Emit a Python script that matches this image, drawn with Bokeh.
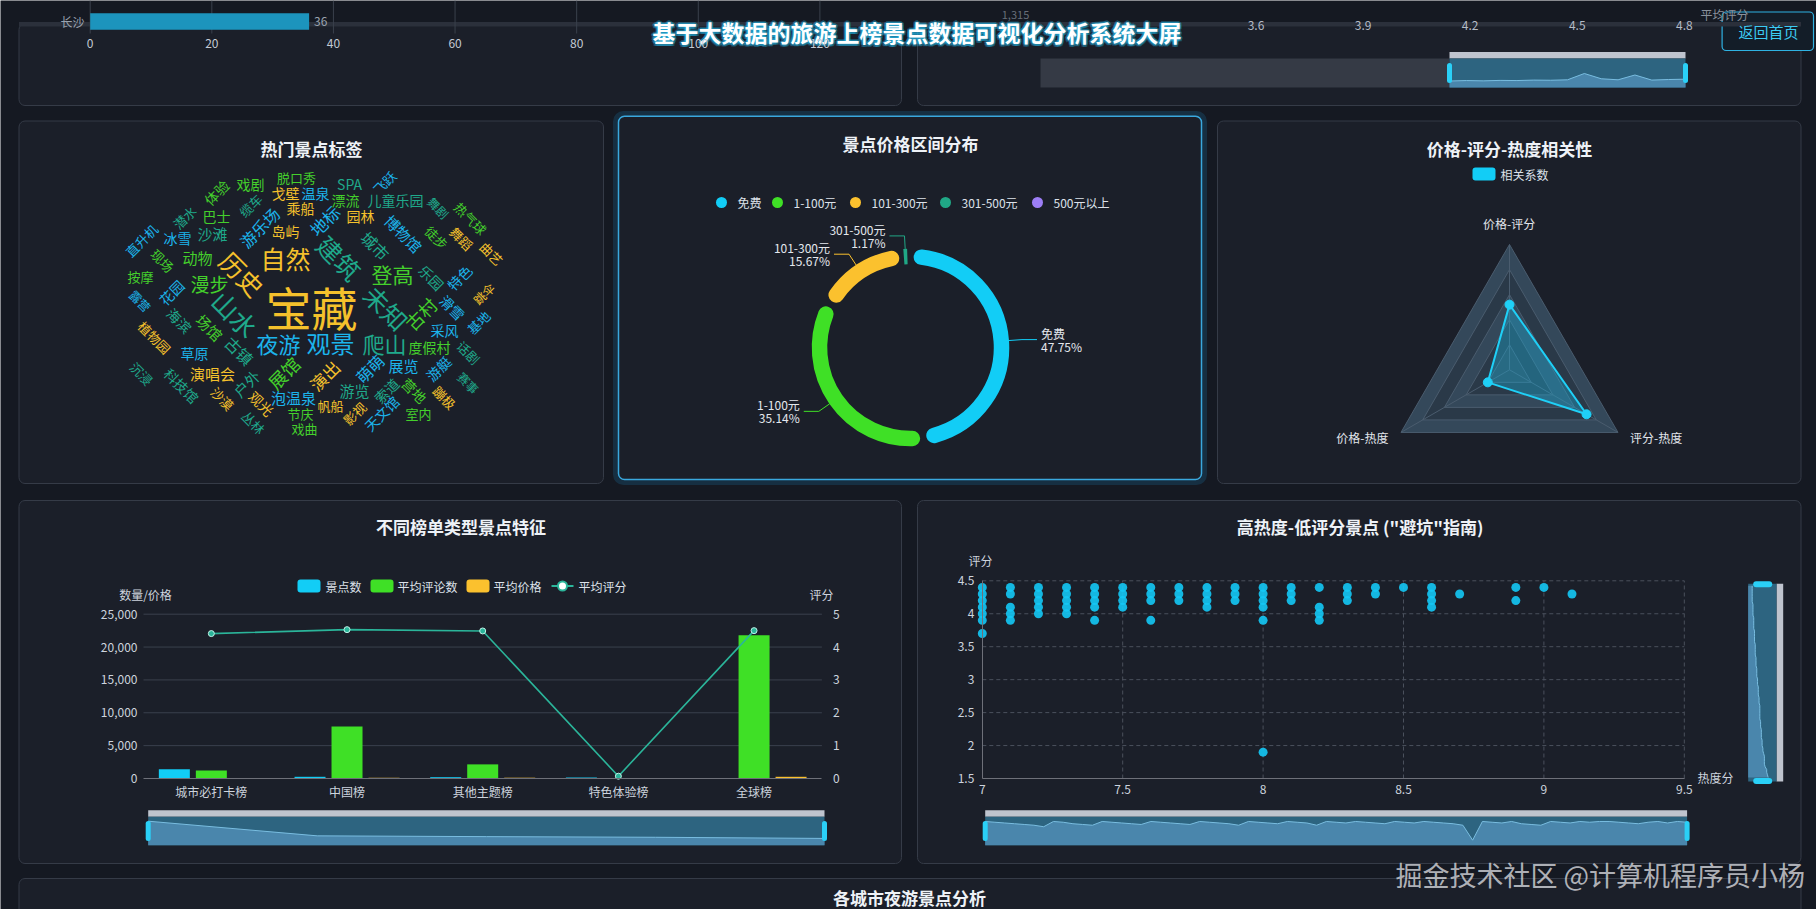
import numpy as np
from bokeh.plotting import figure
from bokeh.models import Range1d, LinearAxis, FixedTicker, NumeralTickFormatter, BoxAnnotation, ColumnDataSource
from bokeh.core.properties import value
from bokeh.embed import file_html
from bokeh.resources import INLINE

# ============================ DATA ============================
PAGE_TITLE = "基于大数据的旅游上榜景点数据可视化分析系统大屏"
BACK_BUTTON = "返回首页"

TOP_CITIES = ["长沙"]
TOP_CITY_COUNTS = [36]
TOP_COUNT_TICKS = [0, 20, 40, 60, 80, 100, 120]
TOP_RATING_TICKS = [3.6, 3.9, 4.2, 4.5, 4.8]
TOP_RATING_NAME = "平均评分"
TOP_RATING_CUT_LABEL = "1,315"
TOP_RATING_SHADOW = [4.30, 4.33, 4.31, 4.34, 4.33, 4.36, 4.35, 4.38, 4.80, 4.45, 4.38, 4.70, 4.36, 4.40, 4.42]

WORDCLOUD_TITLE = "热门景点标签"
WORDS = ["宝藏", "自然", "历史", "山水", "建筑", "未知", "观景", "夜游", "爬山", "登高",
         "古村", "漫步", "动物", "沙滩", "冰雪", "巴士", "潜水", "体验", "戏剧", "脱口秀",
         "戈壁", "温泉", "乘船", "SPA", "漂流", "飞跃", "儿童乐园", "舞剧", "热气球", "缆车",
         "游乐场", "地标", "园林", "岛屿", "城市", "博物馆", "徒步", "舞蹈", "曲艺", "直升机",
         "现场", "按摩", "花园", "露营", "海滨", "场馆", "植物园", "草原", "古镇", "乐园",
         "特色", "跳伞", "滑雪", "基地", "采风", "度假村", "话剧", "沉浸", "科技馆", "演唱会",
         "户外", "展馆", "演出", "萌萌", "展览", "游艇", "赛事", "沙漠", "观光", "泡温泉",
         "游览", "索道", "营地", "蹦极", "丛林", "节庆", "帆船", "影视", "天文馆", "室内", "戏曲"]
WORD_WEIGHTS = [120, 50, 50, 53, 50, 50, 47, 40, 40, 37,
                27, 30, 17, 17, 13, 13, 10, 13, 13, 10,
                13, 13, 13, 13, 13, 10, 13, 7, 10, 10,
                20, 23, 13, 13, 20, 17, 10, 10, 10, 10,
                10, 10, 13, 7, 13, 17, 10, 13, 20, 13,
                13, 7, 13, 10, 13, 13, 10, 10, 13, 17,
                17, 27, 23, 20, 17, 13, 7, 10, 13, 17,
                17, 13, 13, 10, 10, 10, 10, 10, 13, 10, 10]

PRICE_TITLE = "景点价格区间分布"
PRICE_BANDS = ["免费", "1-100元", "101-300元", "301-500元", "500元以上"]
PRICE_SHARES = [47.75, 35.14, 15.67, 1.17, 0.27]

CORR_TITLE = "价格-评分-热度相关性"
CORR_SERIES = "相关系数"
CORR_PAIRS = ["价格-评分", "价格-热度", "评分-热度"]
CORR_COEFS = [0.52, 0.20, 0.71]

LIST_TITLE = "不同榜单类型景点特征"
LIST_TYPES = ["城市必打卡榜", "中国榜", "其他主题榜", "特色体验榜", "全球榜"]
SERIES_NAMES = ["景点数", "平均评论数", "平均价格", "平均评分"]
SPOT_COUNTS = [1400, 260, 200, 150, 60]
AVG_REVIEWS = [1200, 7900, 2150, 0, 21800]
AVG_PRICES = [30, 110, 120, 0, 260]
AVG_RATINGS = [4.41, 4.53, 4.49, 0.07, 4.50]
COUNT_TICKS = [0, 5000, 10000, 15000, 20000, 25000]
RATING_TICKS = [0, 1, 2, 3, 4, 5]
LEFT_AXIS_NAME = "数量/价格"
RIGHT_AXIS_NAME = "评分"

TRAP_TITLE = "高热度-低评分景点 (\"避坑\"指南)"
HEAT_NAME = "热度分"
SCORE_NAME = "评分"
HEAT_SCORES = [7.0, 7.0, 7.0, 7.0, 7.0, 7.0, 7.0,
               7.1, 7.1, 7.1, 7.1, 7.1,
               7.2, 7.2, 7.2, 7.2, 7.2,
               7.3, 7.3, 7.3, 7.3, 7.3,
               7.4, 7.4, 7.4, 7.4, 7.4,
               7.5, 7.5, 7.5, 7.5,
               7.6, 7.6, 7.6, 7.6,
               7.7, 7.7, 7.7,
               7.8, 7.8, 7.8, 7.8,
               7.9, 7.9, 7.9,
               8.0, 8.0, 8.0, 8.0, 8.0, 8.0,
               8.1, 8.1, 8.1,
               8.2, 8.2, 8.2, 8.2,
               8.3, 8.3, 8.3,
               8.4, 8.4,
               8.5,
               8.6, 8.6, 8.6, 8.6,
               8.7,
               8.9, 8.9,
               9.0,
               9.1]
RATING_SCORES = [4.4, 4.3, 4.2, 4.1, 4.0, 3.9, 3.7,
                 4.4, 4.3, 4.1, 4.0, 3.9,
                 4.4, 4.3, 4.2, 4.1, 4.0,
                 4.4, 4.3, 4.2, 4.1, 4.0,
                 4.4, 4.3, 4.2, 4.1, 3.9,
                 4.4, 4.3, 4.2, 4.1,
                 4.4, 4.3, 4.2, 3.9,
                 4.4, 4.3, 4.2,
                 4.4, 4.3, 4.2, 4.1,
                 4.4, 4.3, 4.2,
                 4.4, 4.3, 4.2, 4.1, 3.9, 1.9,
                 4.4, 4.3, 4.2,
                 4.4, 4.1, 4.0, 3.9,
                 4.4, 4.3, 4.2,
                 4.4, 4.3,
                 4.4,
                 4.4, 4.3, 4.2, 4.1,
                 4.3,
                 4.4, 4.2,
                 4.4,
                 4.3]
HEAT_TICKS = [7, 7.5, 8, 8.5, 9, 9.5]
SCORE_TICKS = [1.5, 2, 2.5, 3, 3.5, 4, 4.5]

NIGHT_TITLE = "各城市夜游景点分析"
WATERMARK = "掘金技术社区 @计算机程序员小杨"

# ============================ LAYOUT / STYLE ============================
W, H = 1816, 909
FONT = "Noto Sans CJK SC"
PAGE_BG = "#151922"
PANEL_BG = "#1b1f29"
PANEL_LINE = "#353b47"
TXT = "#cdd4de"
TITLE_C = "#eef2f7"
CYAN = "#12cdf6"
GREEN = "#3fe026"
YELLOW = "#fbc12e"
TEAL = "#20a886"
PURPLE = "#9d7ef6"
LINE_TEAL = "#2bb59a"
PRICE_COLORS = [CYAN, GREEN, YELLOW, TEAL, PURPLE]
WC_PALETTE = ["#f5c12c", "#44d02c", "#1fa98b", "#1cb4ec"]

# word-cloud placement (panel pixel layout): x, y, rotation (deg), palette index
WC_X = [311, 285, 242, 235, 339, 386, 330, 278, 384, 392,
        420, 209, 197, 212, 177, 216, 184, 216, 250, 296,
        285, 315, 300, 349, 345, 384, 395, 438, 470, 250,
        259, 324, 360, 285, 375, 403, 436, 461, 491, 141,
        162, 140, 171, 140, 179, 209, 154, 194, 239, 431,
        459, 483, 452, 478, 444, 429, 468, 141, 181, 212,
        246, 283, 324, 369, 403, 438, 468, 222, 261, 293,
        354, 386, 414, 444, 253, 300, 330, 354, 381, 418, 304]
WC_Y = [305, 257, 273, 313, 257, 307, 342, 342, 342, 273,
        313, 283, 257, 233, 237, 215, 217, 192, 183, 177,
        192, 192, 207, 183, 199, 182, 199, 207, 218, 205,
        227, 220, 215, 230, 245, 233, 237, 238, 253, 240,
        260, 276, 292, 300, 320, 327, 337, 352, 350, 277,
        277, 293, 307, 322, 329, 346, 352, 373, 385, 373,
        383, 372, 375, 368, 365, 368, 382, 398, 403, 397,
        390, 390, 390, 397, 422, 413, 405, 413, 413, 413, 428]
WC_ROT = [0, 0, -45, -45, -45, -45, 0, 0, 0, 0,
          45, 0, 0, 0, 0, 0, 45, 45, 0, 0,
          0, 0, 0, 0, 0, 45, 0, -45, -45, 45,
          45, 45, 0, 0, -45, -45, -45, -45, -45, 45,
          -45, 0, 45, -45, -45, -45, -45, 0, -45, -45,
          45, 45, -45, 45, 0, 0, -45, -45, -45, 0,
          45, 45, 45, 45, 0, 45, -45, -45, -45, 0,
          0, 45, -45, -45, -45, 0, 0, 45, 45, 0, 0]
WC_COL = [0, 0, 0, 2, 2, 2, 3, 3, 2, 1,
          1, 1, 1, 2, 3, 1, 2, 1, 1, 1,
          0, 3, 0, 2, 1, 3, 2, 2, 1, 2,
          3, 3, 0, 0, 2, 3, 1, 0, 0, 3,
          1, 1, 3, 3, 2, 1, 0, 3, 2, 2,
          3, 0, 3, 3, 3, 1, 2, 2, 2, 0,
          2, 1, 0, 3, 3, 3, 2, 0, 0, 3,
          2, 2, 1, 0, 2, 1, 0, 0, 3, 1, 1]


def lin_x(px0, v0, px1, v1):
    k = (v1 - v0) / (px1 - px0)
    return Range1d(start=v0 - px0 * k, end=v0 + (W - px0) * k)


def lin_y(py0, v0, py1, v1):
    k = (v1 - v0) / (py1 - py0)
    return Range1d(start=v0 + (H - py0) * k, end=v0 - py0 * k)


p = figure(width=W, height=H, x_range=Range1d(0, W), y_range=Range1d(H, 0),
           output_backend="svg", toolbar_location=None, tools="",
           x_axis_type=None, y_axis_type=None, min_border=0)
p.background_fill_color = PAGE_BG
p.border_fill_color = PAGE_BG
p.outline_line_color = None

p.extra_x_ranges = {
    "tl": lin_x(89.7, 0, 819.4, 120),
    "tr": lin_x(1255.5, 3.6, 1683.8, 4.8),
    "bar": lin_x(143, 0.5, 821.4, 5.5),
    "sc": lin_x(981.8, 7, 1683.8, 9.5),
}
p.extra_y_ranges = {
    "bar": lin_y(778, 0, 613.7, 25000),
    "rate": lin_y(778, 0, 613.7, 5),
    "sc": lin_y(778, 1.5, 580.3, 4.5),
}


def T(x, y, s, size=12, color=TXT, align="center", baseline="middle", bold=False,
      angle=0.0, alpha=1.0):
    p.text(x=[x], y=[y], text=[s], text_font=value(FONT), text_font_size=f"{size}px",
           text_color=color, text_align=align, text_baseline=baseline,
           text_font_style="bold" if bold else "normal", angle=angle, text_alpha=alpha)


def B(l, r, t, b, fill=None, falpha=1.0, line=None, lw=1.0, lalpha=1.0, radius=0, level="underlay"):
    p.add_layout(BoxAnnotation(left=l, right=r, top=t, bottom=b,
                               fill_color=fill, fill_alpha=falpha if fill else 0.0,
                               line_color=line, line_width=lw, line_alpha=lalpha if line else 0.0,
                               border_radius=int(round(radius)), level=level))


def style_axis(ax, color=TXT, size="12px", line=None):
    ax.axis_line_color = line
    ax.major_tick_line_color = None
    ax.minor_tick_line_color = None
    ax.major_tick_out = 0
    ax.major_tick_in = 0
    ax.major_label_text_font = FONT
    ax.major_label_text_font_size = size
    ax.major_label_text_color = color


def h_slider(l, r, top, bottom, shadow, a, b, bar_h=6.5):
    body_top = top + bar_h
    p.quad(left=[l], right=[r], top=[top], bottom=[body_top], fill_color="#bfc4ce", line_color=None)
    p.quad(left=[l], right=[r], top=[body_top], bottom=[bottom], fill_color="#2d6480", line_color=None)
    xs = np.linspace(l, r, len(shadow))
    ys = bottom - (a * np.array(shadow, dtype=float) + b)
    p.varea(x=xs, y1=ys, y2=np.full(len(xs), bottom), fill_color="#4a86ac")
    p.line(xs, ys, line_color="#79bde0", line_width=1)
    mid = (body_top + bottom) / 2
    for hx in (l, r):
        B(hx - 2.5, hx + 2.5, mid - 10, mid + 10, fill="#2ad0f7", radius=3, level="annotation")


# ============================ PANELS ============================
B(18.5, 901, 23, 105, fill=PANEL_BG, line=PANEL_LINE, radius=6)
B(917, 1800.5, 23, 105, fill=PANEL_BG, line=PANEL_LINE, radius=6)
B(18.5, 603, 120.5, 483, fill=PANEL_BG, line=PANEL_LINE, radius=6)
B(615, 1204, 113, 482, line="#1a74a3", lw=5, lalpha=0.25, radius=8)
B(618, 1201, 115.7, 479, fill=PANEL_BG, line="#3aa8de", lw=1.5, radius=6)
B(1217, 1800.5, 120.5, 483, fill=PANEL_BG, line=PANEL_LINE, radius=6)
B(18.5, 901, 500, 863, fill=PANEL_BG, line=PANEL_LINE, radius=6)
B(917, 1800.5, 500, 863, fill=PANEL_BG, line=PANEL_LINE, radius=6)
B(18.5, 1800.5, 878, 960, fill=PANEL_BG, line=PANEL_LINE, radius=6)
p.quad(left=[18.5, 917], right=[901, 1800.5], top=[21.5, 21.5], bottom=[26, 26],
       fill_color="#2b303b", line_color=None)

# ============================ TOP-LEFT (partial bar chart) ============================
p.segment(x0=TOP_COUNT_TICKS, x1=TOP_COUNT_TICKS, y0=0, y1=33, x_range_name="tl",
          line_color="#3a404c", line_width=1)
p.hbar(y=[21], height=16.6, left=0, right=TOP_CITY_COUNTS, x_range_name="tl",
       fill_color="#1c94bd", line_color=None)
T(84, 21, TOP_CITIES[0], size=12, color="#9aa3b0", align="right")
p.text(x=TOP_CITY_COUNTS, y=[21], text=[str(v) for v in TOP_CITY_COUNTS], x_range_name="tl",
       x_offset=5, text_font=value(FONT), text_font_size="12px", text_color="#9aa3b0",
       text_align="left", text_baseline="middle")
ax = LinearAxis(x_range_name="tl", fixed_location=36, ticker=FixedTicker(ticks=TOP_COUNT_TICKS))
style_axis(ax, color="#c3cad4")
ax.major_label_standoff = 2
p.add_layout(ax, "below")

# ============================ TOP-RIGHT (partial) ============================
T(1015, 14, TOP_RATING_CUT_LABEL, size=11, color="#7d8591", alpha=0.8)
T(1724, 14, TOP_RATING_NAME, size=12, color="#8a919c")
ax = LinearAxis(x_range_name="tr", fixed_location=18, ticker=FixedTicker(ticks=TOP_RATING_TICKS),
                formatter=NumeralTickFormatter(format="0.0"))
style_axis(ax, color="#b4bbc6")
ax.major_label_standoff = 2
p.add_layout(ax, "below")
p.quad(left=[1040], right=[1449], top=[58], bottom=[87], fill_color="#353a45", line_color=None)
h_slider(1449, 1685, 51.5, 87, TOP_RATING_SHADOW, 15.0, -58.0)

# back button
B(1721.6, 1813, 11.5, 50, fill="#131d28", line="#2fb2e2", lw=1.2, radius=4)
T(1768, 31, BACK_BUTTON, size=15, color="#3ccaf2")

# page title with glow
gx, gy = 916.5, 31.5
offs = [(2, 0), (-2, 0), (0, 2), (0, -2), (1.5, 1.5), (-1.5, 1.5), (1.5, -1.5), (-1.5, -1.5)]
p.text(x=[gx + dx for dx, dy in offs], y=[gy + dy for dx, dy in offs], text=[PAGE_TITLE] * len(offs),
       text_font=value(FONT), text_font_size="23px", text_font_style="bold", text_color="#23a9d6",
       text_alpha=0.35, text_align="center", text_baseline="middle")
T(gx, gy, PAGE_TITLE, size=23, color="#ffffff", bold=True)

# ============================ WORD CLOUD ============================
T(311, 148, WORDCLOUD_TITLE, size=17, color=TITLE_C, bold=True)
wc = ColumnDataSource(dict(
    x=WC_X, y=WC_Y, text=WORDS,
    fs=[f"{10 + 0.3 * w:.0f}px" for w in WORD_WEIGHTS],
    ang=[float(np.radians(a)) for a in WC_ROT],
    col=[WC_PALETTE[c] for c in WC_COL],
))
p.text(x="x", y="y", text="text", source=wc, text_font=value(FONT), text_font_size="fs",
       angle="ang", text_color="col", text_align="center", text_baseline="middle")

# ============================ DONUT ============================
T(910, 143, PRICE_TITLE, size=17, color=TITLE_C, bold=True)
LEG_X = [721, 777, 855, 945, 1037]
p.scatter(x=LEG_X, y=[202] * 5, size=11, marker="circle", fill_color=PRICE_COLORS, line_color=None)
p.text(x=[lx + 16 for lx in LEG_X], y=[202] * 5, text=PRICE_BANDS, text_font=value(FONT),
       text_font_size="12px", text_color="#dde2ea", text_align="left", text_baseline="middle")

cx, cy, r_mid, lw_ring = 910, 347, 91, 15.5
r_out = r_mid + lw_ring / 2
shares = np.array(PRICE_SHARES, dtype=float)
cum = np.concatenate([[0], np.cumsum(shares)]) / shares.sum() * 360.0
cap = np.degrees((lw_ring / 2) / r_mid)
gap = 2.0
for i in range(len(shares)):
    t0, t1 = cum[i], cum[i + 1]
    span = t1 - t0
    if span > 2 * (gap + cap):
        a0, a1, capstyle = t0 + gap + cap, t1 - gap - cap, "round"
    elif span > 2.0:
        a0, a1, capstyle = t0 + 1.0, t1 - 1.0, "butt"
    else:
        continue
    p.arc(x=[cx], y=[cy], radius=r_mid, start_angle=float(np.radians(90 - a0)),
          end_angle=float(np.radians(90 - a1)),
          direction="clock", line_color=PRICE_COLORS[i], line_width=lw_ring, line_cap=capstyle)

# labels with leader lines (first four bands)
for i in range(4):
    mid = np.radians((cum[i] + cum[i + 1]) / 2)
    ux, uy = np.sin(mid), -np.cos(mid)
    x1, y1 = cx + r_out * ux, cy + r_out * uy
    x2, y2 = cx + (r_out + 13) * ux, cy + (r_out + 13) * uy
    side = 1 if ux > 0.05 else -1
    x3 = x2 + side * 15
    p.line([x1, x2, x3], [y1, y2, y2], line_color=PRICE_COLORS[i], line_width=1)
    tx = x3 + side * 4
    al = "left" if side > 0 else "right"
    p.text(x=[tx, tx], y=[y2 - 6.5, y2 + 6.5],
           text=[PRICE_BANDS[i], f"{PRICE_SHARES[i]:.2f}%"], text_font=value(FONT),
           text_font_size="12px", text_color="#e4e8ee", text_align=al, text_baseline="middle")

# ============================ RADAR ============================
T(1509, 148, CORR_TITLE, size=17, color=TITLE_C, bold=True)
B(1472, 1495, 167, 180, fill=CYAN, radius=3, level="annotation")
T(1500, 173.5, CORR_SERIES, size=12, color="#dde2ea", align="left")
rcx, rcy, R = 1509, 369.3, 125.3
ang = np.radians([90, 210, 330])
dx_, dy_ = np.cos(ang), -np.sin(ang)
band_cols = ["#34485a", "#2a3948", "#34485a", "#2a3948", "#31414f"]
for k in range(5, 0, -1):
    f = k / 5
    p.patch(rcx + R * f * dx_, rcy + R * f * dy_, fill_color=band_cols[5 - k],
            line_color="#4a5c6e", line_width=1)
p.segment(x0=[rcx] * 3, y0=[rcy] * 3, x1=rcx + R * dx_, y1=rcy + R * dy_, line_color="#4a5c6e")
vals = np.array(CORR_COEFS)
vx, vy = rcx + R * vals * dx_, rcy + R * vals * dy_
p.patch(vx, vy, fill_color="#19b8e6", fill_alpha=0.35, line_color="#1fd0f7", line_width=2)
p.scatter(vx, vy, size=9, marker="circle", fill_color="#1fd0f7", line_color="#1fd0f7")
T(1508.6, 223, CORR_PAIRS[0], size=12, color="#e2e6ec")
T(1388, 437, CORR_PAIRS[1], size=12, color="#e2e6ec", align="right")
T(1629.5, 437, CORR_PAIRS[2], size=12, color="#e2e6ec", align="left")

# ============================ BAR + LINE CHART ============================
T(460.6, 526, LIST_TITLE, size=17, color=TITLE_C, bold=True)
leg_sw = [(297, CYAN), (370, GREEN), (466, YELLOW)]
leg_tx = [325, 397, 493, 578]
for (lx, c) in leg_sw:
    B(lx, lx + 23, 579, 592, fill=c, radius=3, level="annotation")
p.line([551, 573], [585.5, 585.5], line_color=LINE_TEAL, line_width=2)
p.scatter([562], [585.5], size=9, marker="circle", fill_color="#ffffff", line_color=LINE_TEAL, line_width=2)
p.text(x=leg_tx, y=[585.5] * 4, text=SERIES_NAMES, text_font=value(FONT), text_font_size="12px",
       text_color="#dde2ea", text_align="left", text_baseline="middle")
T(145, 594, LEFT_AXIS_NAME, size=12, color=TXT)
T(821, 594, RIGHT_AXIS_NAME, size=12, color=TXT)

p.segment(x0=[0.5] * (len(COUNT_TICKS) - 1), x1=[5.5] * (len(COUNT_TICKS) - 1), y0=COUNT_TICKS[1:],
          y1=COUNT_TICKS[1:], x_range_name="bar", y_range_name="bar", line_color="#3a404d", line_width=1)

xi = np.arange(1, len(LIST_TYPES) + 1)
unit = (821.4 - 143) / 5
off, bw = 37 / unit, 31 / unit
p.vbar(x=xi - off, top=SPOT_COUNTS, width=bw, x_range_name="bar", y_range_name="bar",
       fill_color=CYAN, line_color=None)
p.vbar(x=xi, top=AVG_REVIEWS, width=bw, x_range_name="bar", y_range_name="bar",
       fill_color=GREEN, line_color=None)
p.vbar(x=xi + off, top=AVG_PRICES, width=bw, x_range_name="bar", y_range_name="bar",
       fill_color=YELLOW, line_color=None)
p.line(x=xi, y=AVG_RATINGS, x_range_name="bar", y_range_name="rate", line_color=LINE_TEAL, line_width=1.6)
p.scatter(x=xi, y=AVG_RATINGS, x_range_name="bar", y_range_name="rate", size=6, marker="circle",
          fill_color=LINE_TEAL, line_color="#bff3e8", line_width=1)

ax = LinearAxis(y_range_name="bar", fixed_location=143, bounds=(0, 25000),
                ticker=FixedTicker(ticks=COUNT_TICKS), formatter=NumeralTickFormatter(format="0,0"))
style_axis(ax)
ax.major_label_standoff = 6
p.add_layout(ax, "left")
ax = LinearAxis(y_range_name="rate", fixed_location=821.4, bounds=(0, 5),
                ticker=FixedTicker(ticks=RATING_TICKS))
style_axis(ax)
ax.major_label_standoff = 11
p.add_layout(ax, "right")
ax = LinearAxis(x_range_name="bar", fixed_location=778, bounds=(0.5, 5.5),
                ticker=FixedTicker(ticks=[int(v) for v in xi]),
                major_label_overrides={int(k): v for k, v in zip(xi, LIST_TYPES)})
style_axis(ax, line="#6e7079")
ax.major_label_standoff = 4
p.add_layout(ax, "below")

h_slider(147.7, 824, 809.7, 844.7, SPOT_COUNTS, 18 / 1400, 6.0)

# ============================ SCATTER ============================
T(1359.6, 526, TRAP_TITLE, size=17, color=TITLE_C, bold=True)
T(980, 560, SCORE_NAME, size=12, color=TXT)
T(1715, 777, HEAT_NAME, size=12, color=TXT)
p.segment(x0=HEAT_TICKS[1:], x1=HEAT_TICKS[1:], y0=[1.5] * 5, y1=[4.5] * 5,
          x_range_name="sc", y_range_name="sc", line_color="#4a505c", line_dash="4 3")
p.segment(x0=[7] * 6, x1=[9.5] * 6, y0=SCORE_TICKS[1:], y1=SCORE_TICKS[1:],
          x_range_name="sc", y_range_name="sc", line_color="#4a505c", line_dash="4 3")
p.scatter(x=HEAT_SCORES, y=RATING_SCORES, x_range_name="sc", y_range_name="sc", size=9,
          marker="circle", fill_color="#14c8f5", fill_alpha=0.9, line_color=None)
ax = LinearAxis(y_range_name="sc", fixed_location=981.8, bounds=(1.5, 4.5),
                ticker=FixedTicker(ticks=SCORE_TICKS), formatter=NumeralTickFormatter(format="0.[0]"))
style_axis(ax, line="#6e7079")
ax.major_label_standoff = 8
p.add_layout(ax, "left")
ax = LinearAxis(x_range_name="sc", fixed_location=778, bounds=(7, 9.5),
                ticker=FixedTicker(ticks=HEAT_TICKS), formatter=NumeralTickFormatter(format="0.[0]"))
style_axis(ax, line="#6e7079")
ax.major_label_standoff = 6
p.add_layout(ax, "below")

h_slider(984.7, 1686.6, 809.7, 844.7, RATING_SCORES, 7.48, -9.2)

# vertical slider (score axis)
vl, vr, vt, vb = 1747.7, 1782.7, 583.3, 781
p.quad(left=[vr - 6.7], right=[vr], top=[vt], bottom=[vb], fill_color="#bfc4ce", line_color=None)
p.quad(left=[vl], right=[vr - 6.7], top=[vt], bottom=[vb], fill_color="#2d6480", line_color=None)
hs = np.sort(np.array(HEAT_SCORES))
yy = np.linspace(vt + 2, vb - 4, len(hs))
xx = vl + 4 + (hs - hs.min()) / (hs.max() - hs.min()) * 16
p.harea(y=yy, x1=np.full(len(yy), vl), x2=xx, fill_color="#4a86ac")
p.line(xx, yy, line_color="#79bde0", line_width=1)
B(1752.7, 1771.7, vt - 2.5, vt + 3.5, fill="#2ad0f7", radius=3, level="annotation")
B(1752.7, 1771.7, vb - 3.5, vb + 2.5, fill="#2ad0f7", radius=3, level="annotation")

# ============================ BOTTOM ============================
T(909, 897, NIGHT_TITLE, size=17, color=TITLE_C, bold=True)
T(1395, 874, WATERMARK, size=27, color="#d8dadf", align="left", alpha=0.8)

open("out.html", "w").write(file_html(p, INLINE))
